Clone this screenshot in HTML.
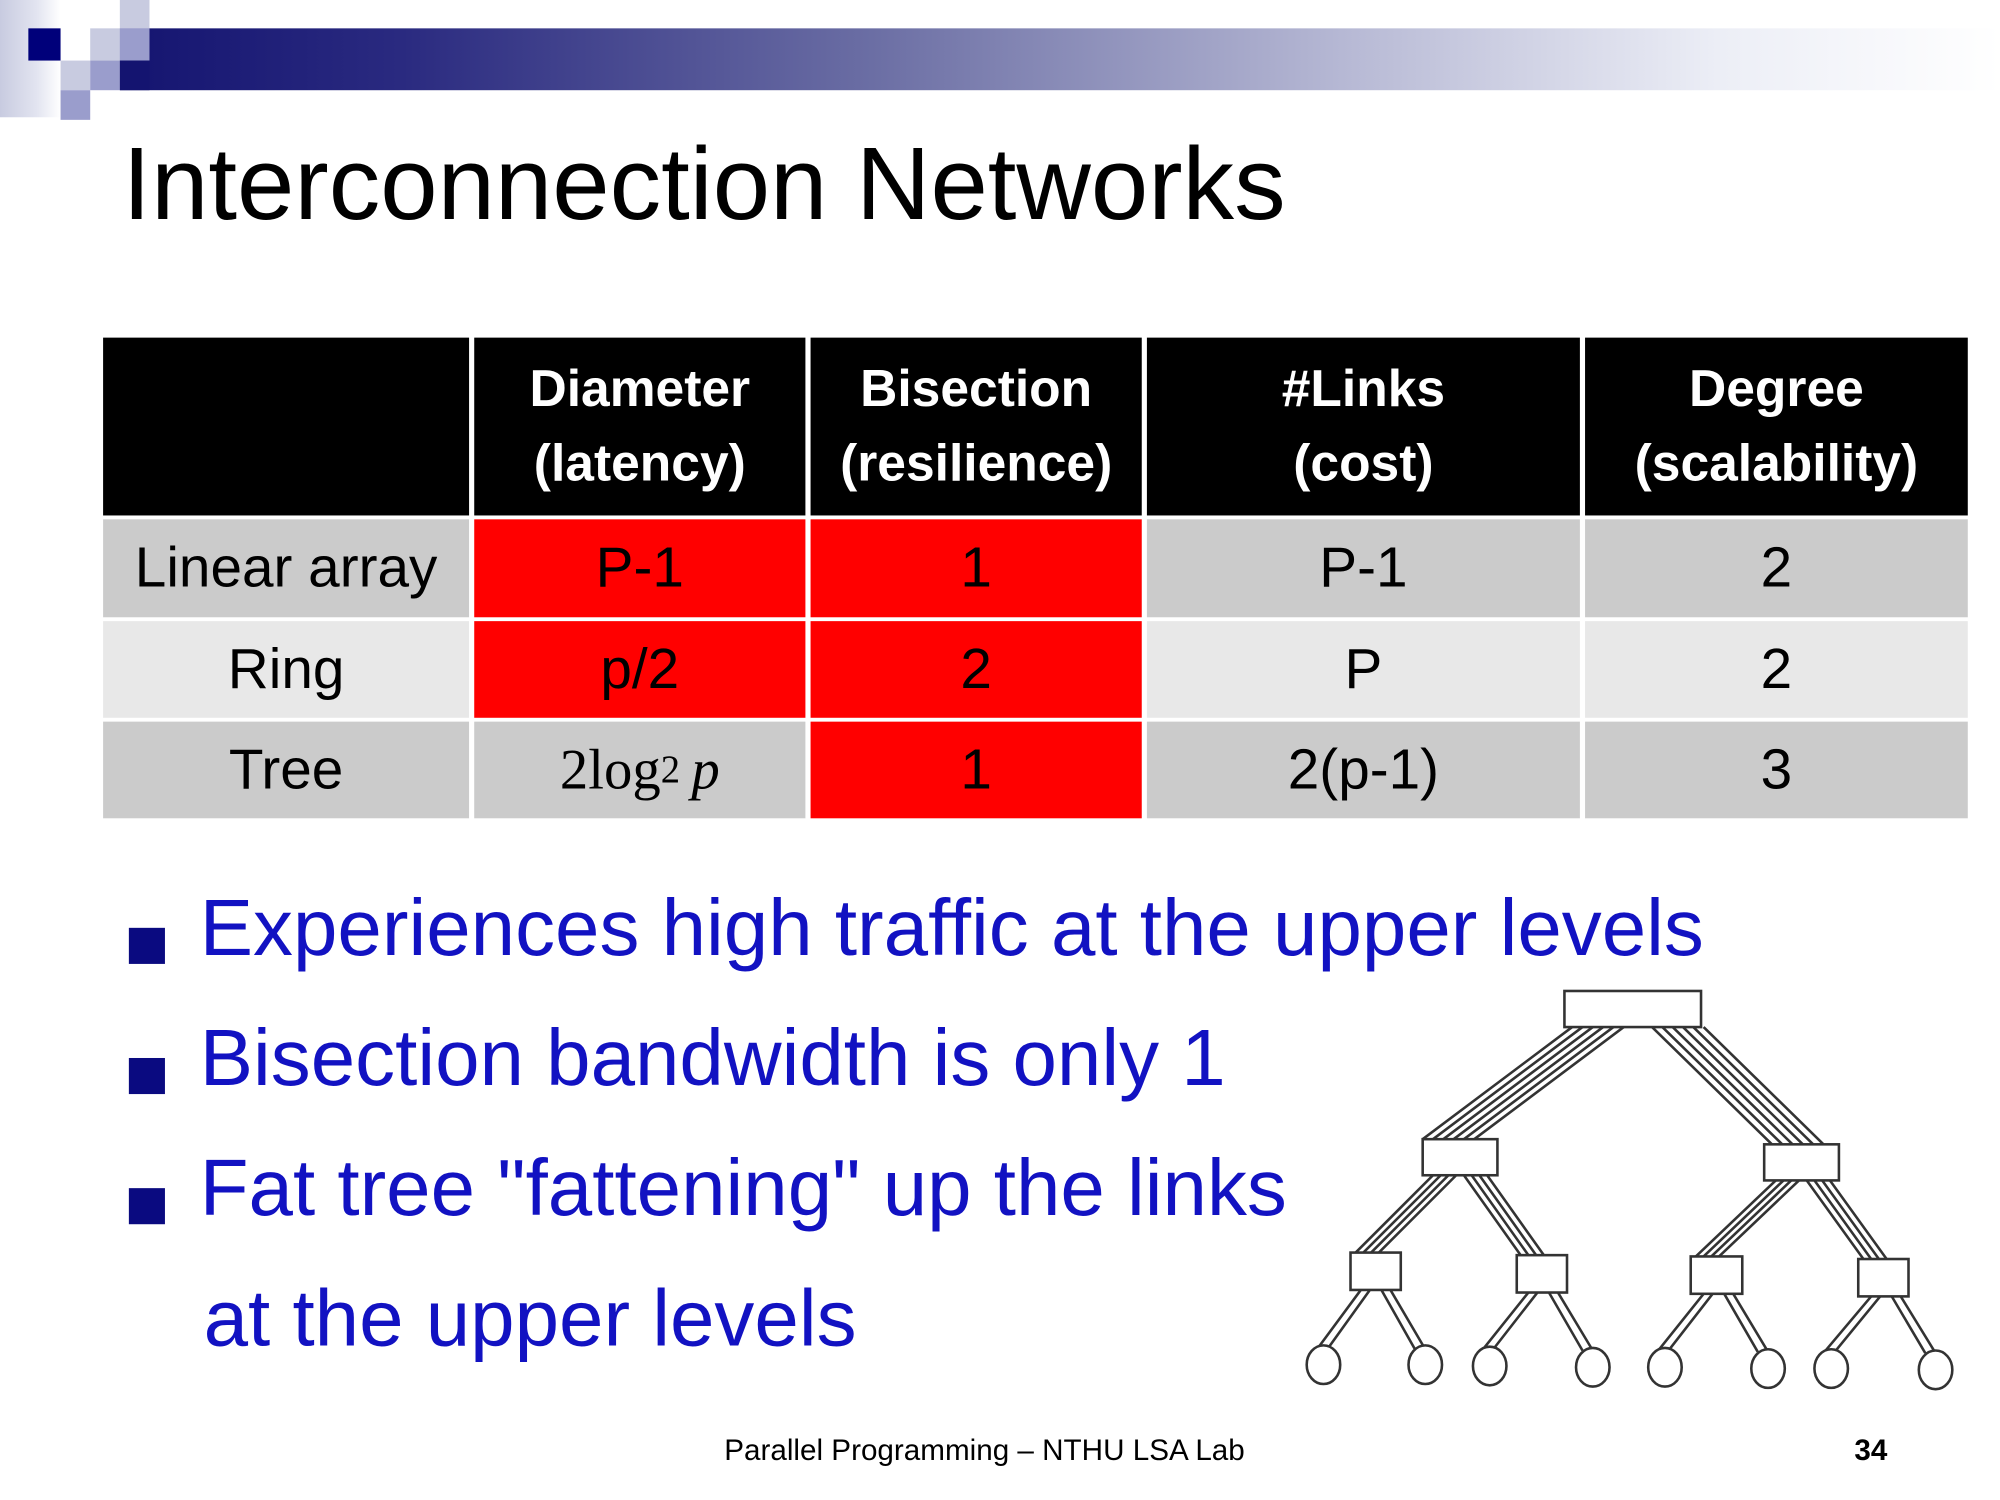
<!DOCTYPE html>
<html><head><meta charset="utf-8">
<style>
html,body{margin:0;padding:0;background:#fff;}
#wrap{width:2000px;height:1500px;overflow:hidden;position:relative;background:#fff;}
#s{position:absolute;left:0;top:0;width:1552px;height:1164px;transform:scale(1.28866);transform-origin:0 0;font-family:"Liberation Sans",sans-serif;}
.a{position:absolute;}
.cell{position:absolute;display:flex;align-items:center;justify-content:center;text-align:center;color:#000;font-size:44px;line-height:1.45;}
.h{background:#000;color:#fff;font-weight:bold;font-size:40px;}
.g1{background:#cbcbcb}.g2{background:#e8e8e8}.r{background:#ff0000}
.b{position:absolute;color:#1212c2;font-size:62px;white-space:nowrap;}
.sq{position:absolute;width:28px;height:28px;background:#0a0a80;}
</style></head><body><div id="wrap"><div id="s">
<div class="a" style="left:0;top:0;width:47px;height:91px;background:linear-gradient(90deg,#c8cbe0,#e2e4f0 60%,#fff)"></div>
<div class="a" style="left:93px;top:22px;width:1459px;height:48px;background:linear-gradient(90deg,#141470,#2a2a80 15%,#6b6ea4 40%,#b6b8d4 65%,#eceef6 85%,#fff)"></div>
<div class="a" style="left:22px;top:22px;width:25px;height:25px;background:#00007a"></div>
<div class="a" style="left:47px;top:47px;width:23px;height:23px;background:#c8cbe0"></div>
<div class="a" style="left:70px;top:22px;width:23px;height:25px;background:#c8cbe0"></div>
<div class="a" style="left:93px;top:0;width:23px;height:22px;background:#c8cbe0"></div>
<div class="a" style="left:93px;top:22px;width:23px;height:25px;background:#9a9dcc"></div>
<div class="a" style="left:70px;top:47px;width:23px;height:23px;background:#9a9dcc"></div>
<div class="a" style="left:47px;top:70px;width:23px;height:23px;background:#9a9dcc"></div>
<div class="a" style="left:93px;top:47px;width:23px;height:23px;background:#141470"></div>

<div class="a" style="left:95px;top:97px;font-size:80px;color:#000;white-space:nowrap;">Interconnection Networks</div>

<div class="cell h" style="left:80px;top:262px;width:284px;height:138px"></div>
<div class="cell h" style="left:368px;top:262px;width:257px;height:138px">Diameter<br>(latency)</div>
<div class="cell h" style="left:629px;top:262px;width:257px;height:138px">Bisection<br>(resilience)</div>
<div class="cell h" style="left:890px;top:262px;width:336px;height:138px">#Links<br>(cost)</div>
<div class="cell h" style="left:1230px;top:262px;width:297px;height:138px">Degree<br>(scalability)</div>

<div class="cell g1" style="left:80px;top:403px;width:284px;height:76px">Linear array</div>
<div class="cell r" style="left:368px;top:403px;width:257px;height:76px">P-1</div>
<div class="cell r" style="left:629px;top:403px;width:257px;height:76px">1</div>
<div class="cell g1" style="left:890px;top:403px;width:336px;height:76px">P-1</div>
<div class="cell g1" style="left:1230px;top:403px;width:297px;height:76px">2</div>

<div class="cell g2" style="left:80px;top:482px;width:284px;height:75px">Ring</div>
<div class="cell r" style="left:368px;top:482px;width:257px;height:75px">p/2</div>
<div class="cell r" style="left:629px;top:482px;width:257px;height:75px">2</div>
<div class="cell g2" style="left:890px;top:482px;width:336px;height:75px">P</div>
<div class="cell g2" style="left:1230px;top:482px;width:297px;height:75px">2</div>

<div class="cell g1" style="left:80px;top:560px;width:284px;height:75px">Tree</div>
<div class="cell g1" style="left:368px;top:560px;width:257px;height:75px;font-family:'Liberation Serif',serif;">2log<sub style="font-size:30px;line-height:0;">2</sub>&thinsp;<i>p</i></div>
<div class="cell r" style="left:629px;top:560px;width:257px;height:75px">1</div>
<div class="cell g1" style="left:890px;top:560px;width:336px;height:75px">2(p-1)</div>
<div class="cell g1" style="left:1230px;top:560px;width:297px;height:75px">3</div>

<svg class="a" style="left:0;top:0" width="1552" height="1164" viewBox="0 0 1552 1164" fill="none" stroke="#333" stroke-width="2">
<g>
<path d="M1220 797L1104 884M1228 797L1112 884M1236 797L1120 884M1244 797L1128 884M1252 797L1136 884M1260 797L1144 884"/>
<path d="M1282 797L1375 888M1290 797L1383 888M1298 797L1391 888M1306 797L1399 888M1314 797L1407 888M1322 797L1415 888"/>
<path d="M1112 912L1052 972M1118 912L1058 972M1124 912L1064 972M1130 912L1070 972"/>
<path d="M1136 912L1180 974M1142 912L1186 974M1148 912L1192 974M1154 912L1198 974"/>
<path d="M1378 916L1316 975M1384 916L1322 975M1390 916L1328 975M1396 916L1334 975"/>
<path d="M1402 916L1446 977M1408 916L1452 977M1414 916L1458 977M1420 916L1464 977"/>
<path d="M1056 1001L1022 1047M1063 1001L1030 1047M1072 1001L1098 1047M1079 1001L1106 1047"/>
<path d="M1186 1003L1150 1048M1193 1003L1158 1048M1202 1003L1228 1048M1209 1003L1236 1048"/>
<path d="M1322 1004L1286 1049M1329 1004L1294 1049M1338 1004L1364 1049M1345 1004L1372 1049"/>
<path d="M1452 1006L1415 1050M1459 1006L1423 1050M1468 1006L1494 1050M1475 1006L1502 1050"/>
</g>
<g fill="#fff">
<rect x="1214" y="769" width="106" height="28"/>
<rect x="1104" y="884" width="58" height="28"/>
<rect x="1369" y="888" width="58" height="28"/>
<rect x="1048" y="972" width="39" height="29"/>
<rect x="1177" y="974" width="39" height="29"/>
<rect x="1312" y="975" width="40" height="29"/>
<rect x="1442" y="977" width="39" height="29"/>
<ellipse cx="1027" cy="1059" rx="13" ry="15"/>
<ellipse cx="1106" cy="1059" rx="13" ry="15"/>
<ellipse cx="1156" cy="1060" rx="13" ry="15"/>
<ellipse cx="1236" cy="1061" rx="13" ry="15"/>
<ellipse cx="1292" cy="1061" rx="13" ry="15"/>
<ellipse cx="1372" cy="1062" rx="13" ry="15"/>
<ellipse cx="1421" cy="1062" rx="13" ry="15"/>
<ellipse cx="1502" cy="1063" rx="13" ry="15"/>
</g>
</svg>

<div class="sq" style="left:100px;top:720px"></div>
<div class="b" style="left:155px;top:685px">Experiences high traffic at the upper levels</div>
<div class="sq" style="left:100px;top:821px"></div>
<div class="b" style="left:155px;top:786px">Bisection bandwidth is only 1</div>
<div class="sq" style="left:100px;top:922px"></div>
<div class="b" style="left:155px;top:887px">Fat tree "fattening" up the links</div>
<div class="b" style="left:158px;top:988px">at the upper levels</div>

<div class="a" style="left:562px;top:1112px;font-size:23px;color:#000;white-space:nowrap;">Parallel Programming – NTHU LSA Lab</div>
<div class="a" style="left:1439px;top:1112px;font-size:23px;font-weight:bold;color:#000;">34</div>
</div></div></body></html>
